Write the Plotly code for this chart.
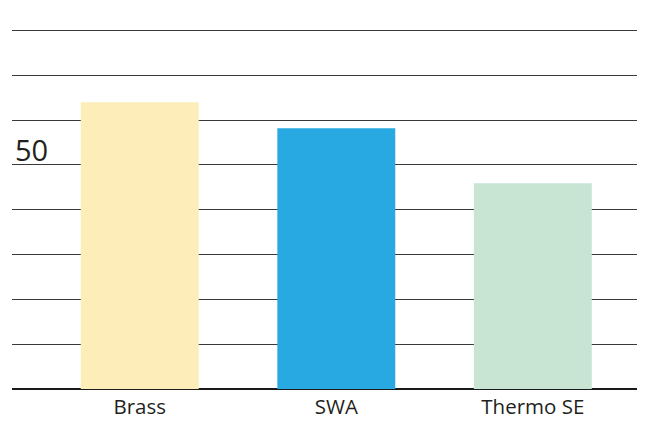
import plotly.graph_objects as go

categories = ["Brass", "SWA", "Thermo SE"]
values = [64.0, 58.2, 45.9]
colors = ["#FCEDB9", "#29A9E1", "#C8E5D4"]
grid_vals = [10, 20, 30, 40, 50, 60, 70, 80]
shown_tick = 50

fig = go.Figure()
fig.add_trace(go.Bar(x=categories, y=values, marker=dict(color=colors, line=dict(width=0)),
                     width=0.6, hoverinfo="skip"))

# page body adds an 8px offset; figure sized to fit the window
fig.update_layout(
    width=637, height=413,
    margin=dict(l=4, r=8, t=18, b=32, autoexpand=False),
    paper_bgcolor="white", plot_bgcolor="white",
    showlegend=False,
    font=dict(family="Open Sans, Noto Sans, sans-serif", color="#231F20"),
    xaxis=dict(range=[-0.65, 2.53], showgrid=False, zeroline=False, showline=False,
               automargin=False,
               ticks="", ticklabelstandoff=3, tickfont=dict(size=20.5, color="#231F20")),
    yaxis=dict(range=[0, 81], tickvals=grid_vals, showticklabels=False, automargin=False,
               showgrid=True, gridcolor="#3A3A3A", gridwidth=1.4,
               zeroline=True, zerolinecolor="#1A1A1A", zerolinewidth=2.4,
               showline=False, ticks=""),
)
fig.add_annotation(x=0, xref="paper", y=shown_tick, yref="y", text=str(shown_tick),
                   showarrow=False, xanchor="left", yanchor="bottom", xshift=1, yshift=-6,
                   font=dict(size=29, color="#231F20"))

fig.write_html("out.html")
